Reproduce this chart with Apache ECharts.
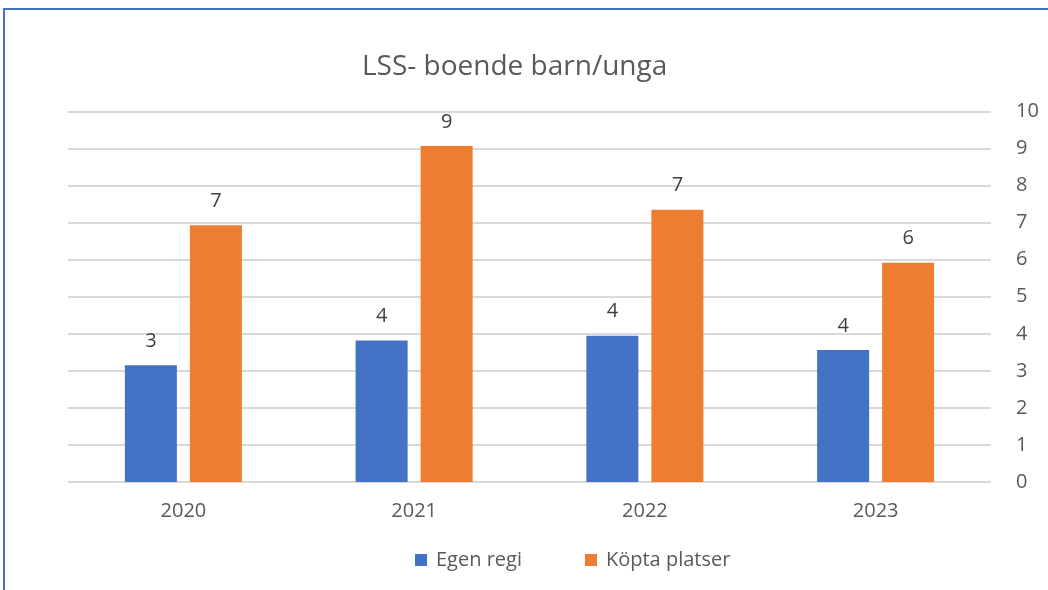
<!DOCTYPE html>
<html><head><meta charset="utf-8">
<script src="https://cdn.jsdelivr.net/npm/echarts@6/dist/echarts.min.js"></script>
<style>html,body{margin:0;padding:0;background:#fff}#c{width:1048px;height:590px}</style>
</head><body><div id="c"></div>
<script>
const categories = ['2020', '2021', '2022', '2023'];
const egenRegi = [3.15, 3.82, 3.95, 3.56];
const kopta = [6.93, 9.07, 7.35, 5.92];
const yTicks = [0, 10, 1];
const FONT = 'Open Sans';
const chart = echarts.init(document.getElementById('c'));
chart.setOption({
  animation: false,
  title: { text: 'LSS- boende barn/unga', left: 357, top: 48, padding: 5, textStyle: { fontFamily: FONT, fontSize: 28, fontWeight: 'normal', color: '#595959' } },
  graphic: [
    { type: 'line', shape: { x1: 3, y1: 9, x2: 1048, y2: 9 }, style: { stroke: '#4472C4', lineWidth: 2 } },
    { type: 'line', shape: { x1: 4, y1: 9, x2: 4, y2: 590 }, style: { stroke: '#4472C4', lineWidth: 2 } }
  ],
  legend: { bottom: 15, left: 410, padding: 5, itemWidth: 12, itemHeight: 12, itemGap: 63, icon: 'rect', textStyle: { fontFamily: FONT, fontSize: 20, color: '#595959', padding: [0, 0, 0, 4] } },
  grid: { left: 68, right: 57, top: 111.5, bottom: 108 },
  xAxis: { type: 'category', data: categories, axisLine: { show: false }, axisTick: { show: false }, axisLabel: { fontFamily: FONT, fontSize: 20, color: '#595959', margin: 19 } },
  yAxis: { type: 'value', position: 'right', min: yTicks[0], max: yTicks[1], interval: yTicks[2], axisLine: { show: false }, axisTick: { show: false }, splitLine: { lineStyle: { color: '#d9d9d9', width: 2 } }, axisLabel: { fontFamily: FONT, fontSize: 20, color: '#595959', margin: 25 } },
  series: [
    { name: 'Egen regi', type: 'bar', data: egenRegi, barWidth: 52, barGap: '25%', itemStyle: { color: '#4472C4' }, label: { show: true, position: 'top', distance: 14, fontFamily: FONT, fontSize: 20, color: '#404040', formatter: p => Math.round(p.value) } },
    { name: 'Köpta platser', type: 'bar', data: kopta, barWidth: 52, barGap: '25%', itemStyle: { color: '#ED7D31' }, label: { show: true, position: 'top', distance: 14, fontFamily: FONT, fontSize: 20, color: '#404040', formatter: p => Math.round(p.value) } }
  ]
});
</script></body></html>
